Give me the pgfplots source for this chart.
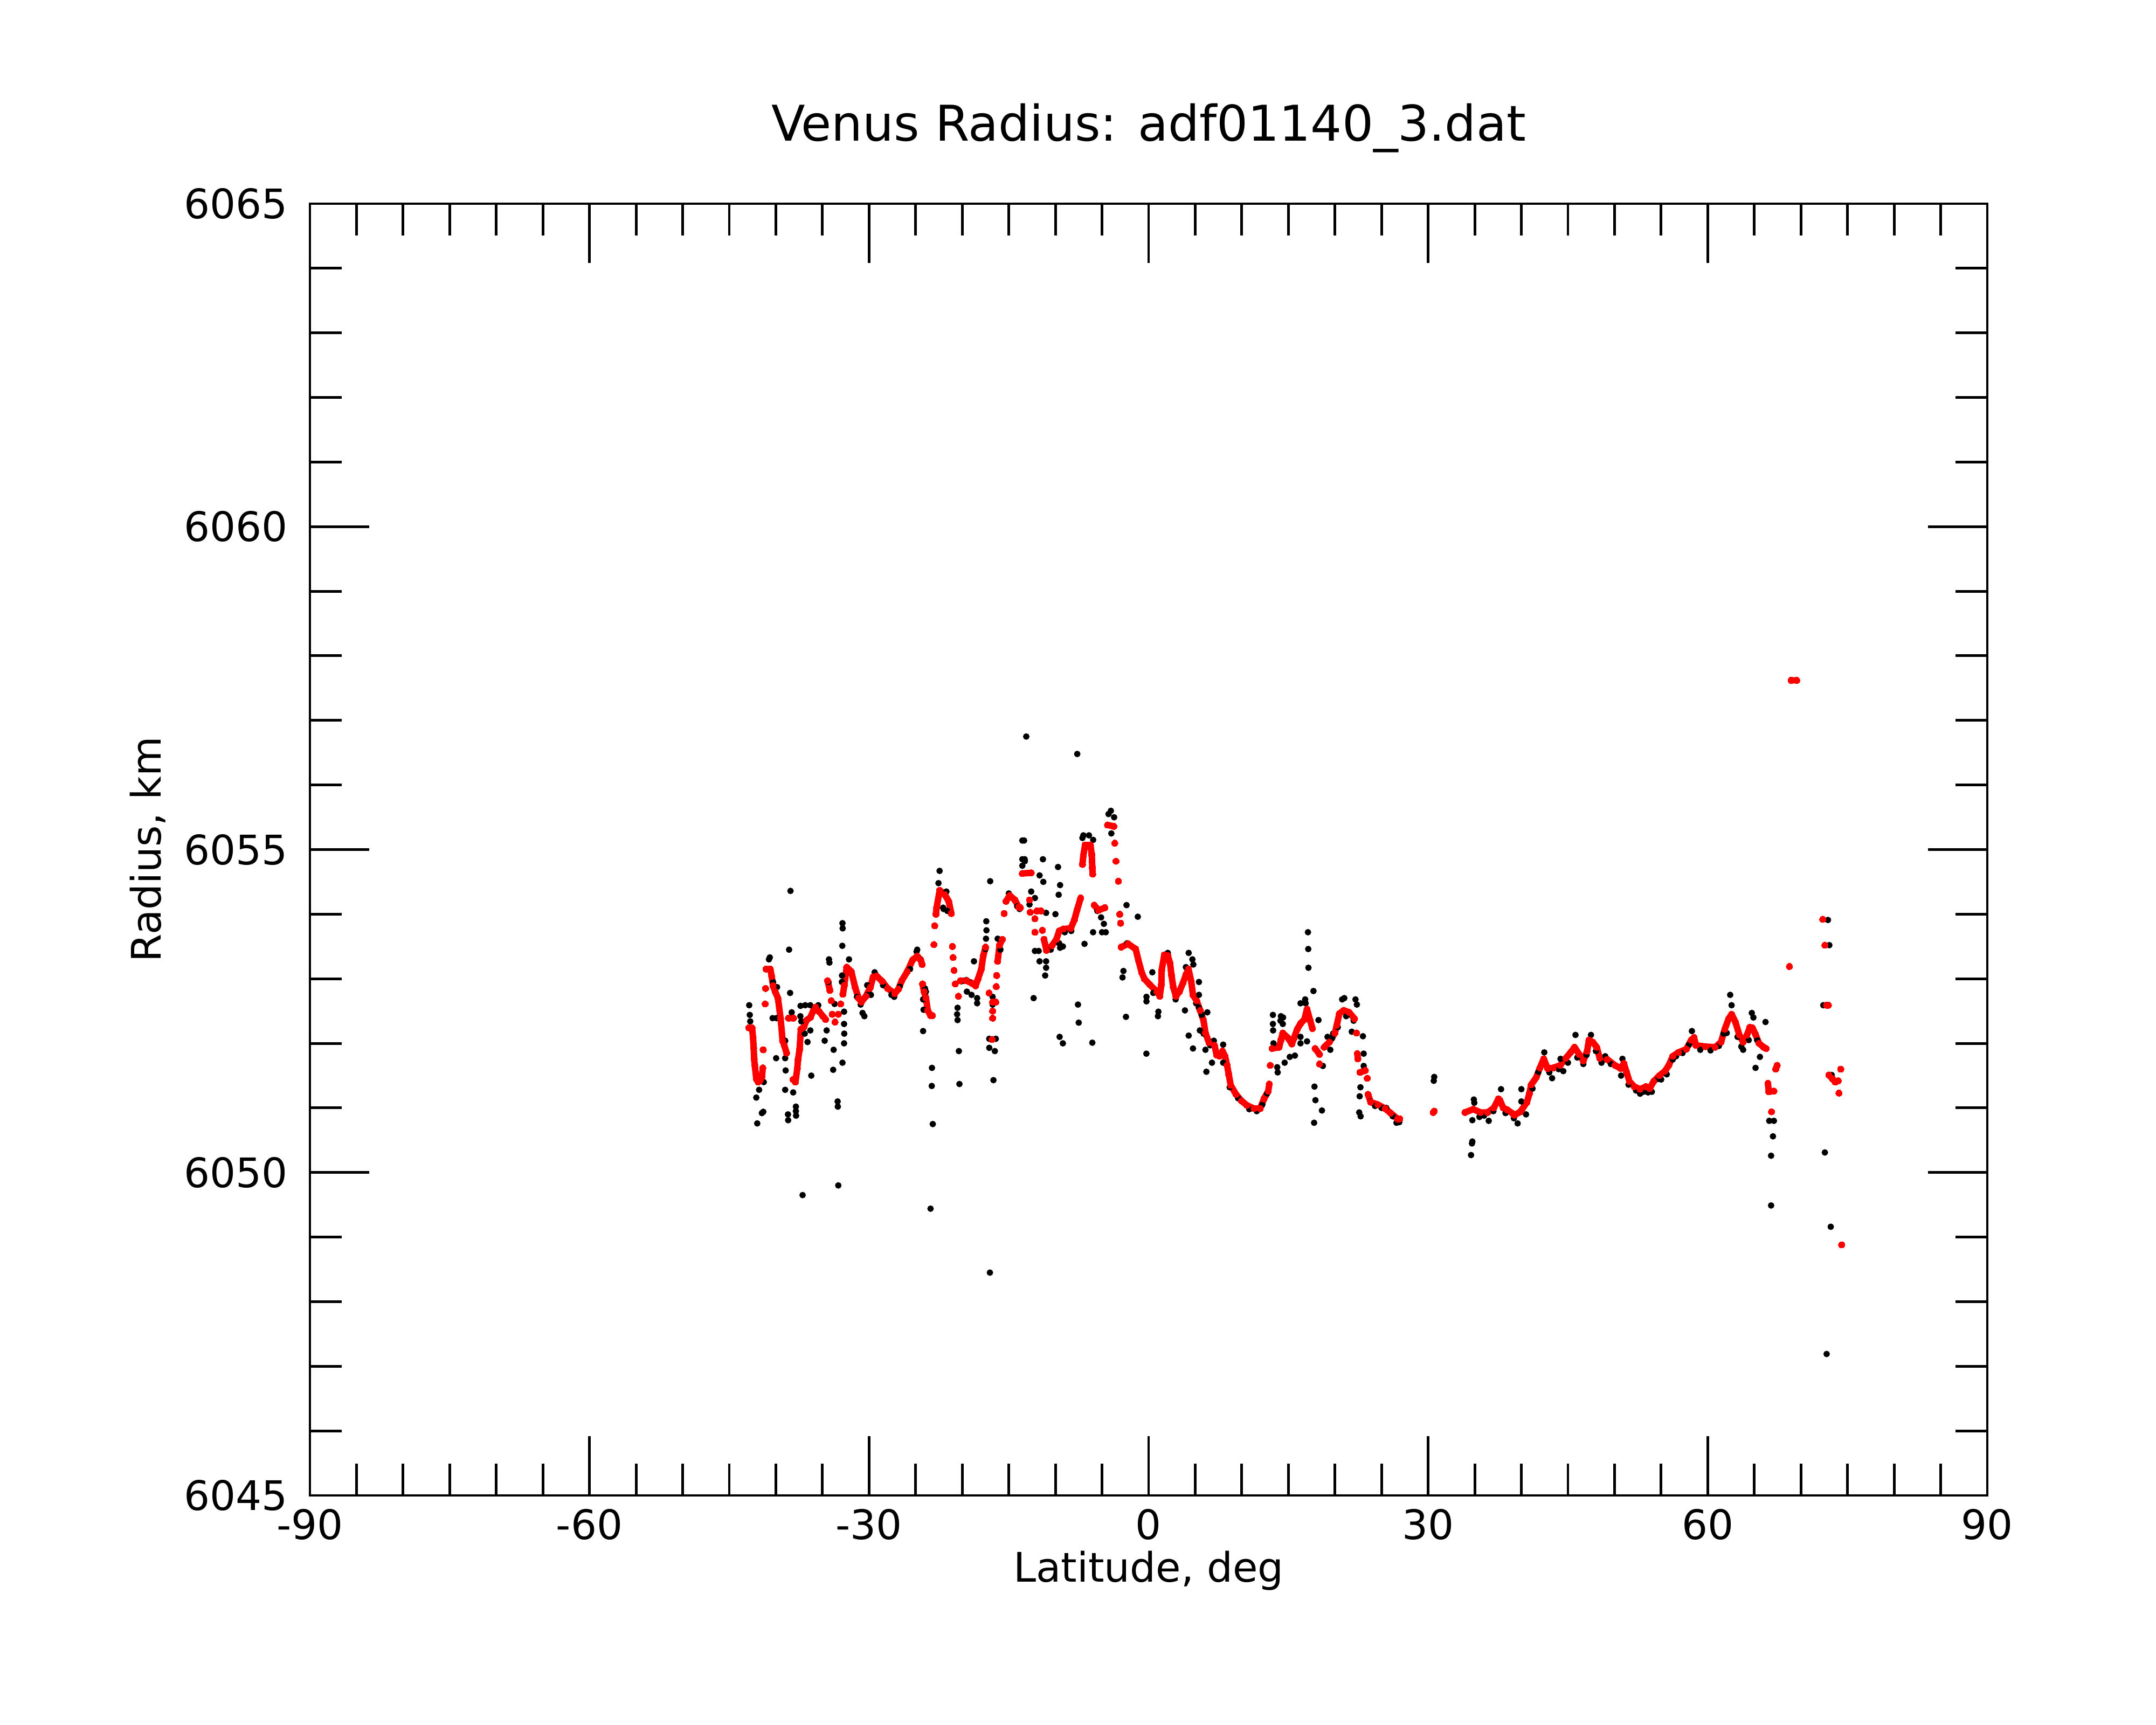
\documentclass[border=0pt]{standalone}
\usepackage{fontspec}
\setmainfont{DejaVu Sans}
\usepackage{pgfplots}
\usepackage{pgfplotstable}
\pgfplotsset{compat=1.18}
\pgfplotstableread{
x y
-42.90 6052.24
-42.55 6052.24
-42.45 6052.09
-42.38 6051.93
-42.33 6051.76
-42.27 6051.67
-42.10 6051.45
-41.90 6051.40
-41.70 6051.42
-41.50 6051.48
-41.40 6051.62
nan nan
-41.35 6051.90
nan nan
-41.15 6052.61
nan nan
-41.10 6052.85
nan nan
-41.05 6053.15
-40.60 6053.15
-40.45 6053.04
-40.30 6052.89
-40.07 6052.80
-39.78 6052.70
-39.62 6052.53
-39.50 6052.39
-39.39 6052.23
-39.28 6052.04
-39.10 6051.97
-38.85 6051.85
nan nan
-38.65 6052.39
-38.10 6052.39
nan nan
-38.15 6051.44
-37.90 6051.40
-37.70 6051.61
-37.62 6051.75
-37.45 6051.91
-37.32 6052.22
-37.00 6052.25
-36.70 6052.36
-36.30 6052.40
-36.00 6052.50
-35.74 6052.56
-35.35 6052.49
-34.95 6052.42
-34.66 6052.37
nan nan
-34.45 6052.97
-34.20 6052.82
nan nan
-34.05 6052.66
nan nan
-33.95 6052.45
nan nan
-33.65 6052.33
nan nan
-33.30 6052.45
nan nan
-33.05 6052.61
nan nan
-32.80 6052.76
-32.65 6052.90
-32.40 6053.18
-31.90 6053.11
-31.50 6052.87
-31.12 6052.70
-30.83 6052.64
-30.33 6052.73
-29.85 6052.87
-29.56 6053.03
-29.17 6053.04
-28.59 6052.96
-28.00 6052.85
-27.24 6052.77
-26.85 6052.84
-26.49 6052.97
-25.90 6053.11
-25.33 6053.29
-24.83 6053.35
-24.45 6053.29
-24.30 6053.22
nan nan
-24.26 6052.92
-24.10 6052.80
-23.89 6052.70
-23.70 6052.51
-23.40 6052.43
-23.20 6052.43
nan nan
-23.04 6053.53
nan nan
-22.95 6053.82
nan nan
-22.82 6054.00
-22.75 6054.10
-22.42 6054.37
-21.86 6054.30
-21.45 6054.20
-21.17 6054.01
nan nan
-21.05 6053.50
nan nan
-20.98 6053.33
nan nan
-20.88 6053.13
nan nan
-20.75 6052.92
nan nan
-20.41 6052.73
nan nan
-20.20 6052.97
-19.55 6052.97
-18.95 6052.93
-18.57 6052.89
-18.30 6053.00
-17.95 6053.15
-17.75 6053.35
-17.50 6053.49
nan nan
-17.12 6052.78
nan nan
-16.74 6052.64
nan nan
-16.74 6052.50
nan nan
-16.74 6052.39
nan nan
-16.80 6052.06
nan nan
-16.40 6052.64
nan nan
-16.35 6052.88
nan nan
-16.30 6053.05
nan nan
-16.20 6053.27
-16.00 6053.52
-15.70 6053.61
nan nan
-15.50 6054.01
nan nan
-15.30 6054.20
-14.90 6054.29
-14.35 6054.22
-13.94 6054.11
-13.76 6054.10
nan nan
-13.55 6054.63
-12.60 6054.64
nan nan
-12.78 6054.22
nan nan
-12.70 6054.03
nan nan
-12.20 6053.93
nan nan
-12.20 6053.72
nan nan
-12.00 6054.05
-11.53 6054.05
nan nan
-11.40 6053.75
nan nan
-11.23 6053.61
-10.96 6053.44
-10.38 6053.51
-9.89 6053.61
-9.60 6053.74
-9.14 6053.77
-8.35 6053.78
-7.97 6053.91
-7.69 6054.06
-7.29 6054.25
nan nan
-7.10 6054.77
-7.00 6054.91
-6.82 6055.07
-6.24 6055.07
-6.10 6054.92
-6.04 6054.72
-6.00 6054.62
nan nan
-5.84 6054.14
-5.37 6054.06
-4.69 6054.10
nan nan
-4.40 6055.38
-3.73 6055.36
nan nan
-3.63 6055.10
nan nan
-3.50 6054.82
nan nan
-3.24 6054.51
nan nan
-3.10 6054.00
nan nan
-3.00 6053.86
nan nan
-2.95 6053.49
-2.20 6053.54
-1.39 6053.46
-1.10 6053.29
-0.75 6053.10
-0.46 6053.00
0.12 6052.91
0.90 6052.80
1.20 6052.73
1.37 6052.91
1.40 6053.13
1.68 6053.37
2.06 6053.36
2.30 6053.24
2.45 6053.06
2.65 6052.87
2.93 6052.73
3.30 6052.80
3.70 6052.94
4.00 6053.06
4.28 6053.15
4.57 6052.96
4.76 6052.75
5.15 6052.66
5.53 6052.51
5.90 6052.35
6.10 6052.16
6.48 6052.01
7.07 6051.97
7.30 6051.82
7.60 6051.80
7.93 6051.88
8.20 6051.80
8.42 6051.66
8.60 6051.52
8.81 6051.35
9.38 6051.21
9.97 6051.11
10.55 6051.04
11.32 6050.99
11.97 6050.99
12.38 6051.14
12.84 6051.26
12.95 6051.37
nan nan
13.05 6051.66
nan nan
13.25 6051.92
14.00 6051.94
14.20 6052.05
14.40 6052.16
14.98 6052.08
15.37 6051.99
15.60 6052.08
15.95 6052.22
16.32 6052.31
16.72 6052.37
17.00 6052.53
17.30 6052.37
17.58 6052.23
nan nan
17.87 6051.92
18.34 6051.83
nan nan
18.34 6051.68
nan nan
18.83 6051.94
19.40 6052.02
19.99 6052.16
20.19 6052.28
20.47 6052.46
20.94 6052.51
21.52 6052.48
22.10 6052.38
nan nan
22.31 6052.16
nan nan
22.40 6051.84
22.45 6051.76
nan nan
22.68 6051.55
23.26 6051.58
nan nan
23.46 6051.46
nan nan
23.55 6051.21
23.83 6051.09
24.62 6051.05
25.39 6050.99
25.97 6050.92
26.73 6050.83
26.95 6050.83
nan nan
30.55 6050.93
30.65 6050.95
nan nan
33.95 6050.93
34.84 6050.98
35.61 6050.93
36.38 6050.93
37.04 6051.00
37.54 6051.14
37.70 6051.12
38.06 6051.00
38.50 6050.97
39.10 6050.91
39.27 6050.89
39.90 6050.94
40.04 6050.97
40.60 6051.09
40.86 6051.22
41.06 6051.36
41.59 6051.47
41.99 6051.62
42.40 6051.76
42.82 6051.61
43.43 6051.62
44.16 6051.66
44.77 6051.77
45.29 6051.86
45.71 6051.94
46.20 6051.83
46.65 6051.73
47.06 6051.88
47.25 6052.05
47.66 6052.02
48.09 6051.94
48.41 6051.77
49.22 6051.75
50.05 6051.66
50.67 6051.61
50.99 6051.69
51.30 6051.55
51.60 6051.41
52.11 6051.33
52.74 6051.29
53.36 6051.33
53.77 6051.30
54.19 6051.41
54.81 6051.50
55.41 6051.57
55.82 6051.66
56.25 6051.80
56.87 6051.86
57.70 6051.91
58.22 6052.05
58.53 6052.09
58.73 6051.97
59.75 6051.95
60.80 6051.94
61.43 6052.02
61.83 6052.22
62.24 6052.38
62.56 6052.45
62.97 6052.33
63.39 6052.13
63.80 6052.02
64.21 6052.13
64.52 6052.25
64.80 6052.24
65.12 6052.14
65.50 6052.00
66.00 6051.94
66.27 6051.92
nan nan
66.46 6051.38
66.55 6051.25
67.10 6051.26
nan nan
66.84 6050.94
nan nan
67.30 6051.60
67.45 6051.66
nan nan
68.77 6053.19
nan nan
68.95 6057.62
69.55 6057.62
nan nan
72.34 6053.92
nan nan
72.57 6053.52
nan nan
72.75 6052.59
72.95 6052.59
nan nan
73.00 6051.51
73.40 6051.45
73.69 6051.40
74.00 6051.42
nan nan
74.27 6051.60
nan nan
74.08 6051.23
nan nan
74.37 6048.88
}\reddata
\pgfplotstableread{
x y
-42.86 6052.59
-42.80 6052.44
-42.75 6052.34
-41.80 6051.28
-42.10 6051.16
-41.50 6050.92
-41.35 6050.94
-42.00 6050.76
-41.40 6051.90
-41.30 6051.40
-40.74 6053.30
-40.65 6053.33
-40.35 6052.39
-39.87 6052.87
-40.30 6052.95
-39.97 6051.77
-39.95 6052.39
-39.00 6052.04
-39.00 6051.77
-38.95 6051.58
-39.00 6051.28
-38.14 6051.24
-38.70 6050.90
-38.68 6050.81
-37.85 6050.95
-37.85 6051.02
-37.83 6050.88
-38.43 6054.36
-38.58 6053.45
-38.47 6052.78
-38.30 6052.48
-37.35 6052.58
-37.37 6052.42
-37.27 6052.34
-36.60 6052.02
-36.90 6052.15
-36.20 6051.50
-36.85 6052.59
-36.30 6052.59
-35.45 6052.59
-36.30 6052.20
-34.76 6052.04
-34.55 6052.20
-34.30 6053.30
-34.25 6053.25
-34.35 6052.95
-33.80 6051.90
-33.85 6051.59
-33.37 6051.10
-33.35 6051.02
-33.30 6049.80
-33.70 6052.61
-32.85 6053.86
-32.83 6053.78
-32.87 6053.51
-32.90 6053.05
-32.92 6052.95
-32.68 6052.49
-32.68 6052.30
-32.66 6052.15
-32.68 6052.00
-32.85 6051.70
-32.15 6053.30
-31.30 6052.72
-30.90 6052.60
-30.70 6052.47
-30.50 6052.42
-30.20 6052.90
-30.20 6052.75
-29.80 6052.75
-29.40 6053.10
-28.50 6052.90
-28.00 6052.85
-27.60 6052.75
-27.30 6052.72
-26.70 6052.88
-25.60 6053.15
-24.90 6053.42
-37.13 6049.65
-24.83 6053.45
-24.45 6053.30
-24.00 6052.85
-23.90 6052.80
-24.20 6052.68
-24.15 6052.52
-24.20 6052.19
-23.25 6051.62
-23.27 6051.34
-23.16 6050.75
-23.40 6049.44
-22.43 6054.67
-22.55 6054.48
-22.00 6054.08
-22.05 6054.10
-21.70 6054.35
-21.60 6054.05
-20.50 6052.55
-20.55 6052.45
-20.50 6052.36
-20.36 6051.88
-20.30 6051.37
-20.10 6052.96
-19.55 6052.98
-19.00 6052.94
-19.50 6052.80
-19.00 6052.75
-18.74 6053.27
-18.40 6052.70
-18.40 6052.62
-17.42 6053.89
-17.40 6053.75
-17.45 6053.62
-17.50 6053.46
-16.74 6052.72
-16.74 6052.60
-17.10 6052.07
-16.40 6052.07
-17.10 6051.93
-16.50 6051.88
-16.65 6051.43
-17.00 6054.51
-17.03 6048.45
-16.20 6053.62
-15.90 6053.45
-15.00 6054.32
-14.10 6054.12
-13.85 6054.08
-13.55 6055.14
-13.55 6054.85
-13.55 6054.75
-13.36 6055.14
-13.30 6054.85
-13.28 6054.82
-13.13 6056.75
-11.34 6054.85
-11.70 6054.60
-11.30 6054.50
-12.60 6054.35
-12.20 6054.25
-11.00 6054.02
-10.00 6054.00
-12.78 6054.15
-12.20 6053.43
-11.80 6053.43
-11.70 6053.27
-11.00 6053.27
-11.00 6053.17
-11.10 6053.05
-10.50 6053.45
-9.72 6054.73
-9.50 6054.45
-9.65 6054.30
-9.60 6053.55
-9.50 6053.48
-9.20 6053.50
-9.00 6053.72
-8.30 6053.74
-12.34 6052.70
-9.55 6052.10
-9.20 6052.00
-7.58 6052.60
-7.50 6052.32
-7.66 6056.48
-6.88 6053.54
-6.04 6052.01
-7.00 6055.22
-6.40 6055.22
-5.95 6055.15
-7.10 6055.18
-5.96 6053.72
-5.50 6054.05
-5.10 6053.95
-4.80 6053.85
-5.00 6053.72
-4.60 6053.72
-4.30 6055.55
-4.05 6055.60
-3.70 6055.50
-4.00 6055.25
-2.37 6054.14
-1.16 6053.96
-2.30 6053.55
-2.70 6053.12
-2.80 6053.02
-2.43 6052.41
-0.24 6051.84
0.40 6053.10
-0.23 6052.72
-0.23 6052.65
0.50 6052.78
1.05 6052.49
1.00 6052.42
2.06 6053.40
2.90 6052.68
4.30 6053.40
4.70 6053.30
4.80 6053.22
4.00 6053.18
3.90 6052.51
4.30 6052.12
5.10 6052.62
5.40 6052.95
5.40 6052.75
5.40 6052.55
5.70 6052.44
6.30 6052.48
5.90 6052.15
5.50 6052.20
4.76 6051.92
6.10 6051.90
6.20 6051.56
6.60 6051.97
7.00 6052.04
8.00 6051.98
6.80 6051.70
8.00 6051.70
8.70 6051.32
9.60 6051.15
10.80 6050.98
11.60 6050.95
12.20 6051.05
12.70 6051.22
13.34 6052.44
13.34 6052.30
13.36 6052.20
13.40 6052.00
14.43 6052.40
14.40 6052.30
13.80 6051.63
13.85 6051.55
14.60 6051.70
17.10 6053.72
17.13 6053.46
17.15 6053.17
17.69 6052.81
16.80 6052.68
16.30 6052.62
16.85 6052.62
18.23 6052.36
17.00 6052.03
17.80 6051.33
17.90 6051.12
18.60 6050.96
17.76 6050.77
14.20 6052.42
14.15 6052.35
15.15 6051.79
15.70 6051.81
16.30 6052.10
16.30 6052.00
18.70 6051.65
19.20 6052.10
19.70 6052.08
19.80 6052.15
19.50 6051.90
20.30 6052.25
20.77 6052.68
21.00 6052.70
21.20 6052.42
21.30 6052.44
22.00 6052.35
22.20 6052.68
22.35 6052.60
21.80 6052.18
23.00 6052.11
23.08 6051.84
23.08 6051.65
22.73 6051.32
22.65 6051.18
22.60 6050.93
22.75 6050.87
23.80 6051.10
24.30 6051.03
25.00 6051.00
25.50 6051.00
26.20 6050.87
26.60 6050.77
26.90 6050.78
30.65 6051.48
30.60 6051.42
34.90 6051.13
34.95 6051.08
34.74 6050.81
34.74 6050.48
34.70 6050.45
34.60 6050.27
35.50 6050.86
36.00 6050.88
36.50 6050.80
37.00 6050.95
37.82 6051.29
38.30 6050.92
39.20 6050.84
39.60 6050.76
40.00 6051.29
40.00 6051.10
40.50 6050.90
41.20 6051.30
41.80 6051.55
42.46 6051.86
43.00 6051.55
43.30 6051.46
44.00 6051.60
44.20 6051.76
44.50 6051.57
45.00 6051.70
45.81 6052.13
46.00 6051.78
46.65 6051.68
47.00 6051.82
47.47 6052.13
48.00 6051.88
48.60 6051.70
49.00 6051.80
49.60 6051.68
50.70 6051.50
50.85 6051.76
51.50 6051.36
52.30 6051.27
52.74 6051.22
53.10 6051.25
53.60 6051.24
54.00 6051.25
54.70 6051.45
55.00 6051.44
55.60 6051.52
56.25 6051.75
56.60 6051.80
57.30 6051.85
58.00 6051.98
58.30 6052.19
59.20 6051.90
60.30 6051.89
61.20 6051.96
61.70 6052.15
62.04 6052.16
62.41 6052.75
62.56 6052.59
63.20 6052.10
63.60 6051.95
63.80 6051.90
64.40 6052.05
64.73 6052.47
64.90 6052.40
65.13 6051.62
65.30 6052.05
65.60 6051.79
66.20 6052.33
66.60 6050.80
67.10 6050.80
67.00 6050.56
66.80 6050.26
66.80 6049.49
72.90 6053.91
73.05 6053.52
72.40 6052.59
73.30 6051.51
72.57 6050.31
73.20 6049.16
72.76 6047.19
}\blackdata
\begin{document}
\fontsize{21.5pt}{26pt}\selectfont
\begin{tikzpicture}
\path[use as bounding box] (-5.75cm,-4.25cm) rectangle (34.25cm,27.75cm);
\begin{axis}[
  at={(0,0)}, anchor=south west,
  scale only axis, width=31.12cm, height=23.97cm,
  xmin=-90, xmax=90, ymin=6045, ymax=6065,
  xtick={-90,-60,...,90}, ytick={6045,6050,...,6065},
  minor x tick num=5, minor y tick num=4,
  tick align=inside,
  major tick length=1.1cm, minor tick length=0.59cm,
  every tick/.style={black, line width=1.4pt},
  axis line style={line width=1.4pt},
  /pgf/number format/assume math mode=true,
  /pgf/number format/1000 sep={},
  tick label style={font=\fontsize{21.5pt}{26pt}\selectfont},
  yticklabel style={xshift=-0.15cm},
  title={Venus Radius: adf01140\_3.dat},
  title style={at={(axis description cs:0.5,1.040)}, anchor=base, yshift=0pt, font=\fontsize{26pt}{31pt}\selectfont},
  xlabel={Latitude, deg},
  xlabel style={at={(axis description cs:0.5,-0.067)}, anchor=base},
  ylabel={Radius, km},
  ylabel style={at={(axis description cs:-0.0887,0.5)}, anchor=base},
  unbounded coords=jump,
]
\addplot[only marks, mark=*, mark size=1.5pt, black] table {\blackdata};
\addplot[red, line width=3.4pt, line cap=round, line join=round, mark=*, mark size=1.7pt, mark options={line width=0pt, fill=red}] table {\reddata};
\end{axis}
\end{tikzpicture}
\end{document}
